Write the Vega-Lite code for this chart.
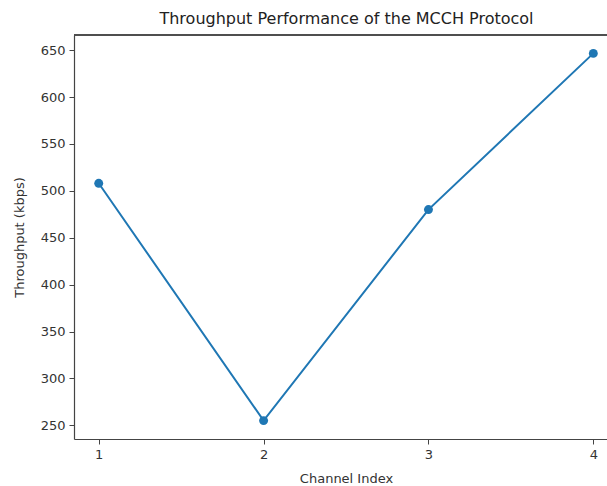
{
  "$schema": "https://vega.github.io/schema/vega-lite/v6.json",
  "width": 533,
  "height": 404,
  "autosize": "none",
  "padding": {"left": 74, "top": 35, "right": 0, "bottom": 47},
  "background": "white",
  "view": {"stroke": null},
  "title": {
    "text": "Throughput Performance of the MCCH Protocol",
    "font": "DejaVu Sans",
    "fontSize": 16,
    "fontWeight": "normal",
    "color": "#222",
    "anchor": "middle",
    "dx": 6,
    "offset": 7
  },
  "data": {
    "values": [
      {"channel": 1, "throughput": 508},
      {"channel": 2, "throughput": 255},
      {"channel": 3, "throughput": 480},
      {"channel": 4, "throughput": 646.5}
    ]
  },
  "encoding": {
    "x": {
      "field": "channel",
      "type": "quantitative",
      "scale": {"domain": [0.85, 4.083], "nice": false, "zero": false},
      "axis": {
        "values": [1, 2, 3, 4],
        "title": "Channel Index",
        "grid": false,
        "format": "d",
        "domainColor": "#444",
        "domainWidth": 1.2,
        "tickColor": "#444",
        "tickSize": 5,
        "labelFont": "DejaVu Sans",
        "labelFontSize": 13,
        "labelColor": "#333",
        "labelPadding": 4,
        "titleFont": "DejaVu Sans",
        "titleFontSize": 13,
        "titleFontWeight": "normal",
        "titleColor": "#333",
        "titleX": 272,
        "titlePadding": 11
      }
    },
    "y": {
      "field": "throughput",
      "type": "quantitative",
      "scale": {"domain": [235.4, 666.1], "nice": false, "zero": false},
      "axis": {
        "values": [250, 300, 350, 400, 450, 500, 550, 600, 650],
        "title": "Throughput (kbps)",
        "grid": false,
        "domainColor": "#444",
        "domainWidth": 1.2,
        "tickColor": "#444",
        "tickSize": 5,
        "labelFont": "DejaVu Sans",
        "labelFontSize": 13,
        "labelColor": "#333",
        "labelPadding": 4,
        "titleFont": "DejaVu Sans",
        "titleFontSize": 13,
        "titleFontWeight": "normal",
        "titleColor": "#333",
        "titlePadding": 14
      }
    }
  },
  "layer": [
    {
      "mark": {"type": "line", "color": "#1f77b4", "strokeWidth": 2}
    },
    {
      "mark": {"type": "point", "filled": true, "color": "#1f77b4", "size": 80, "opacity": 1}
    },
    {
      "mark": {"type": "rule", "color": "#444", "strokeWidth": 1.2},
      "encoding": {
        "x": {"datum": 0.85},
        "x2": {"datum": 4.083},
        "y": {"datum": 666.1}
      }
    }
  ]
}
